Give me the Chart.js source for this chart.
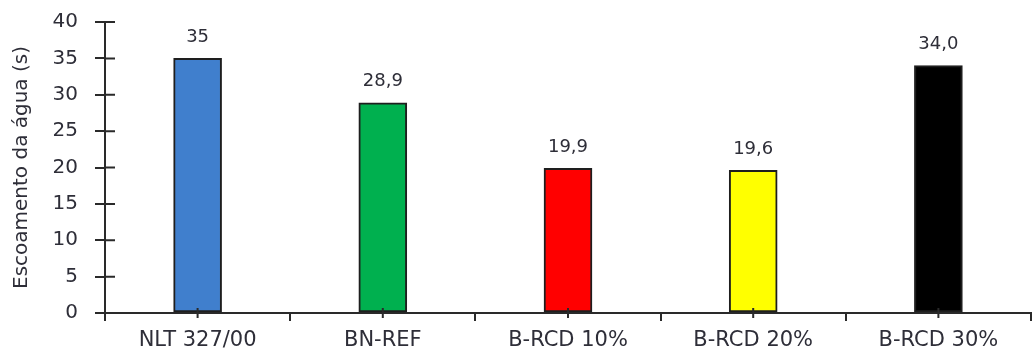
<!DOCTYPE html>
<html>
<head>
<meta charset="utf-8">
<script src="https://cdn.jsdelivr.net/npm/chart.js@4"></script>
<style>
  html, body { margin: 0; padding: 0; background: #fff; }
  #wrap { width: 1033px; height: 353px; position: relative; }
</style>
</head>
<body>
<div id="wrap"><canvas id="flow-chart"></canvas></div>
<script>
// valores
var categories = ['NLT 327/00', 'BN-REF', 'B-RCD 10%', 'B-RCD 20%', 'B-RCD 30%'];
var flowTimes = [35, 28.9, 19.9, 19.6, 34.0];
var valueLabels = ['35', '28,9', '19,9', '19,6', '34,0'];
var barColors = ['#407fcd', '#00b04f', '#ff0000', '#ffff00', '#000000'];

var axisColor = '#2a2a2a';
var textColor = '#2e2e38';

// ticks que cruzam os eixos + rótulos de valor
var extrasPlugin = {
    id: 'extras',
    afterDatasetsDraw: function (chart) {
        var ctx = chart.ctx;
        var area = chart.chartArea;
        var x = chart.scales.x;
        var y = chart.scales.y;
        ctx.save();
        ctx.strokeStyle = axisColor;
        ctx.lineWidth = 2;
        ctx.beginPath();
        y.ticks.forEach(function (t, i) {
            var py = y.getPixelForTick(i);
            ctx.moveTo(area.left, py);
            ctx.lineTo(area.left + 10, py);
        });
        categories.forEach(function (c, i) {
            var px = x.getPixelForValue(i);
            ctx.moveTo(px, area.bottom - 5);
            ctx.lineTo(px, area.bottom + 5);
        });
        ctx.moveTo(area.left, area.bottom);
        ctx.lineTo(area.left, area.bottom + 8);
        ctx.stroke();

        var meta = chart.getDatasetMeta(0);
        ctx.fillStyle = textColor;
        ctx.font = '18px "DejaVu Sans"';
        ctx.textAlign = 'center';
        ctx.textBaseline = 'middle';
        meta.data.forEach(function (bar, i) {
            ctx.fillText(valueLabels[i], bar.x, bar.y - 21);
        });
        ctx.restore();
    }
};

var ctx = document.getElementById('flow-chart').getContext('2d');
var myChart = new Chart(ctx, {
    type: 'bar',
    data: {
        labels: categories,
        datasets: [{
            data: flowTimes,
            backgroundColor: barColors,
            borderColor: '#1e1e1e',
            borderWidth: 2,
            borderSkipped: false,
            barThickness: 48
        }]
    },
    options: {
        responsive: true,
        maintainAspectRatio: false,
        animation: false,
        layout: {
            padding: { top: 22, right: 2, bottom: 0, left: 0 }
        },
        plugins: {
            legend: { display: false },
            tooltip: { enabled: false }
        },
        scales: {
            x: {
                grid: {
                    offset: true,
                    drawOnChartArea: false,
                    tickLength: 8,
                    color: axisColor,
                    lineWidth: 2
                },
                border: { color: axisColor, width: 2 },
                ticks: {
                    color: textColor,
                    padding: 7,
                    maxRotation: 0,
                    font: { family: 'DejaVu Sans', size: 21 }
                },
                afterFit: function (scale) { scale.height = 40; }
            },
            y: {
                min: 0,
                max: 40,
                grid: {
                    drawOnChartArea: false,
                    tickLength: 10,
                    color: axisColor,
                    lineWidth: 2
                },
                border: { color: axisColor, width: 2 },
                ticks: {
                    stepSize: 5,
                    color: textColor,
                    padding: 17,
                    font: { family: 'DejaVu Sans', size: 20 }
                },
                title: {
                    display: true,
                    text: 'Escoamento da água (s)',
                    color: textColor,
                    padding: { top: 10, bottom: 0 },
                    font: { family: 'DejaVu Sans', size: 20 }
                },
                afterFit: function (scale) {
                    scale.width = 105;
                    scale.paddingTop = 12;
                    scale.paddingBottom = 12;
                }
            }
        }
    },
    plugins: [extrasPlugin]
});
</script>
</body>
</html>
